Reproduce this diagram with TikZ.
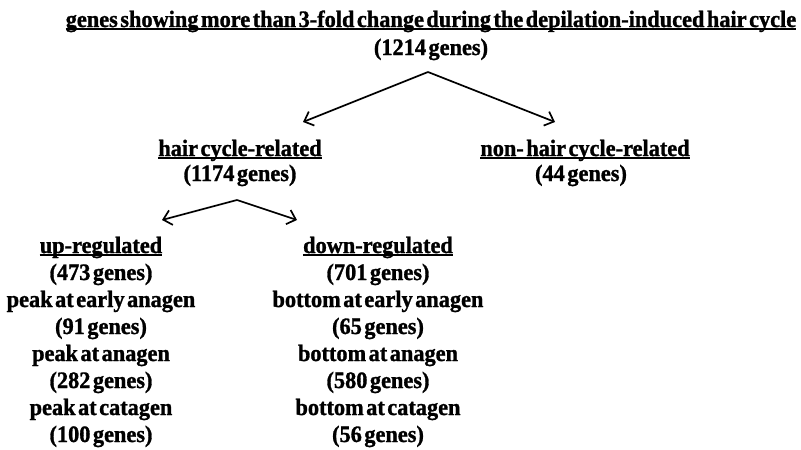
\documentclass[tikz,border=0pt]{standalone}
\usepackage{fontspec}
\setmainfont{Liberation Serif}
\newfontfamily\labfont[FakeStretch=0.95,FakeBold=1.2,WordSpace=0.45]{Liberation Serif Bold}
\usetikzlibrary{arrows.meta}
\begin{document}
\begin{tikzpicture}[x=1pt,y=-1pt,
  lbl/.style={inner sep=0pt, anchor=base, font=\labfont\fontsize{23.5}{28}\selectfont},
  ul/.style={line width=1.6pt},
  arr/.style={line width=1.7pt, -{Straight Barb[length=8pt,width=15pt]}}]
\useasboundingbox (0,0) rectangle (801,450);
% top
\node[lbl] (title) at (431,27) {genes showing more than 3-fold change during the depilation-induced hair cycle};
\draw[ul] ([yshift=-2pt]title.base west) -- ([yshift=-2pt]title.base east);
\node[lbl] (total) at (431,55) {(1214 genes)};
\coordinate (apex1) at (428,72);
\coordinate (hcl) at (303,122);
\coordinate (nhcl) at (555,122);
\draw[arr] (apex1) -- (hcl);
\draw[arr] (apex1) -- (nhcl);
% second level
\node[lbl] (hc) at (240,156) {hair cycle-related};
\draw[ul] ([yshift=-2pt]hc.base west) -- ([yshift=-2pt]hc.base east);
\node[lbl] (hcn) at (240,181) {(1174 genes)};
\node[lbl] (nhc) at (585,156) {non- hair cycle-related};
\draw[ul] ([yshift=-2pt]nhc.base west) -- ([yshift=-2pt]nhc.base east);
\node[lbl] (nhcn) at (581,181) {(44 genes)};
\coordinate (apex2) at (237,200);
\coordinate (upl) at (162,220);
\coordinate (downl) at (297,220);
\draw[arr] (apex2) -- (upl);
\draw[arr] (apex2) -- (downl);
% up column
\node[lbl] (up) at (101,253) {up-regulated};
\draw[ul] ([yshift=-2pt]up.base west) -- ([yshift=-2pt]up.base east);
\node[lbl] (u1) at (101,280) {(473 genes)};
\node[lbl] (u2) at (101,307) {peak at early anagen};
\node[lbl] (u3) at (101,334) {(91 genes)};
\node[lbl] (u4) at (101,361) {peak at anagen};
\node[lbl] (u5) at (101,388) {(282 genes)};
\node[lbl] (u6) at (101,415) {peak at catagen};
\node[lbl] (u7) at (101,442) {(100 genes)};
% down column
\node[lbl] (down) at (378,253) {down-regulated};
\draw[ul] ([yshift=-2pt]down.base west) -- ([yshift=-2pt]down.base east);
\node[lbl] (d1) at (378,280) {(701 genes)};
\node[lbl] (d2) at (378,307) {bottom at early anagen};
\node[lbl] (d3) at (378,334) {(65 genes)};
\node[lbl] (d4) at (378,361) {bottom at anagen};
\node[lbl] (d5) at (378,388) {(580 genes)};
\node[lbl] (d6) at (378,415) {bottom at catagen};
\node[lbl] (d7) at (378,442) {(56 genes)};
\end{tikzpicture}
\end{document}
